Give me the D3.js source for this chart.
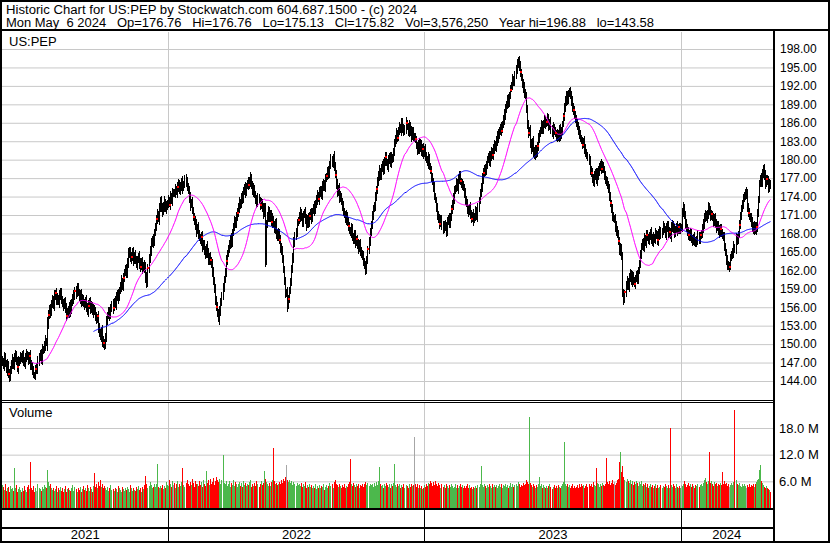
<!DOCTYPE html>
<html><head><meta charset="utf-8">
<script src="https://cdn.jsdelivr.net/npm/d3@7"></script>
<style>
body{margin:0;background:#fff}
svg{display:block}
text{font-family:Arial,"Liberation Sans",sans-serif;fill:#000}
</style>
</head><body><svg id="c" width="830" height="543"></svg>
<script>
// ---- DATA ----
const headerLine1 = "Historic Chart for US:PEP by Stockwatch.com 604.687.1500 - (c) 2024";
const headerLine2 = "Mon May  6 2024   Op=176.76   Hi=176.76   Lo=175.13   Cl=175.82   Vol=3,576,250   Year hi=196.88   lo=143.58";
const symbol = "US:PEP";
const yearLabels = ["2021","2022","2023","2024"];
const yearStarts = [0,162,411,661];           // first trading-day index of each year
const priceTicks = [198,195,192,189,186,183,180,177,174,171,168,165,162,159,156,153,150,147,144];
const volTicks = [6,12,18];                  // millions
const closes = [
147.2,146.5,147.8,146.9,145.8,146.6,145.2,144.6,145.9,146.8,
147.5,146.4,147.9,148.3,147.1,146.2,147.0,147.4,148.1,147.6,
148.2,147.3,146.8,147.7,148.5,147.9,147.4,148.0,146.9,146.3,
145.8,145.1,144.8,146.0,146.0,147.2,147.8,148.4,147.6,148.9,
149.2,149.8,150.6,150.1,153.2,154.8,155.6,155.1,156.6,157.2,
156.4,157.8,158.3,157.1,157.6,156.8,157.9,158.4,157.3,156.6,
156.2,157.0,155.8,154.6,155.4,155.0,156.1,155.5,156.8,157.4,
157.9,158.6,158.2,159.3,158.5,157.4,158.0,156.9,157.5,156.6,
156.3,157.2,156.0,155.4,156.2,156.9,155.7,156.4,155.1,155.8,
155.3,154.6,153.9,154.5,152.8,151.9,151.2,152.0,150.6,150.1,
149.8,151.3,153.6,154.8,155.3,154.6,155.9,156.4,155.8,157.1,
156.5,157.6,158.2,157.4,158.9,159.5,160.2,159.4,160.8,161.6,
162.3,161.5,163.4,164.6,165.3,163.8,164.2,164.9,163.6,164.5,
163.9,162.8,163.7,164.3,163.2,162.6,163.5,162.1,162.9,162.3,
161.0,159.8,162.4,163.9,165.2,166.3,167.1,166.5,168.2,169.0,
170.4,171.2,170.3,172.0,173.4,172.2,171.5,172.6,173.1,171.9,
172.4,172.8,173.5,172.7,174.0,173.3,174.6,174.6,174.5,175.2,
174.7,175.5,176.1,175.0,175.6,176.3,175.4,176.0,176.8,176.5,
175.6,174.9,173.8,172.5,173.2,171.8,170.6,170.1,169.3,168.5,
169.0,167.9,167.4,166.8,167.5,165.9,166.3,165.1,164.6,165.8,
164.9,163.5,164.2,163.7,162.8,161.9,160.3,158.9,157.2,156.1,
155.2,154.1,155.3,156.8,157.9,159.2,160.4,161.9,163.5,164.8,
165.6,166.2,167.1,166.5,168.0,169.2,170.1,169.5,170.8,171.4,
172.2,173.0,172.5,174.1,173.6,174.8,175.4,174.7,175.6,176.3,
175.8,176.6,177.0,175.9,174.8,175.4,174.2,173.5,172.9,174.0,
173.2,172.6,173.1,172.0,171.3,172.2,163.4,169.6,170.8,171.5,
170.6,171.2,169.8,170.4,169.3,168.7,169.5,168.1,167.4,168.2,
166.9,165.8,165.1,164.0,162.2,160.1,158.3,158.3,156.2,157.4,
158.6,160.3,162.1,164.2,166.4,167.5,168.3,169.6,170.2,170.8,
171.4,170.6,169.8,170.9,171.6,170.2,169.4,170.5,169.7,170.8,
171.3,170.4,171.6,172.4,171.8,172.9,173.5,174.2,173.6,174.5,
175.1,174.3,175.6,176.2,175.5,176.8,177.4,178.2,177.6,179.3,
180.1,179.4,180.3,179.2,177.5,176.1,174.6,175.3,173.8,174.2,
173.1,172.4,171.6,171.0,170.3,170.9,169.8,169.2,168.6,168.1,
168.7,167.5,166.9,167.8,166.4,167.1,166.2,165.5,166.3,165.1,
164.7,164.3,163.5,162.6,162.1,163.6,165.4,166.8,168.1,169.5,
170.8,171.9,172.6,173.8,175.2,176.4,177.5,178.1,177.3,178.6,
179.2,178.4,179.7,180.5,179.6,178.8,179.9,180.6,179.5,180.3,
180.1,181.4,182.6,183.5,184.2,183.6,184.8,185.4,184.7,185.9,
185.2,184.6,185.1,186.0,185.3,184.5,185.6,184.4,183.9,184.7,
183.6,183.6,183.4,182.1,181.5,182.6,181.9,182.7,181.2,181.8,
181.0,181.7,180.6,180.1,179.5,180.2,179.0,178.1,177.2,176.4,
175.5,174.2,173.4,172.1,171.0,170.3,169.6,170.4,169.2,168.7,
169.5,169.0,168.4,169.8,170.6,169.5,170.8,171.9,172.8,173.6,
174.9,175.5,176.3,175.4,176.8,177.4,176.5,175.9,176.1,175.3,
174.4,173.5,172.8,172.0,171.4,172.3,171.1,170.4,171.0,170.2,
170.9,171.6,170.8,172.1,173.4,174.5,175.6,177.0,177.8,178.5,
178.1,179.2,179.9,180.6,179.8,180.5,181.3,180.7,181.8,182.4,
181.9,183.1,183.8,184.0,184.6,185.3,184.7,185.8,186.6,187.3,
188.1,189.0,189.8,189.2,190.5,191.4,192.2,193.1,192.6,193.8,
194.7,195.5,196.2,195.1,194.3,193.2,192.5,191.6,191.0,190.4,
188.2,185.6,184.3,184.9,182.5,181.8,182.9,181.4,180.8,181.6,
181.0,182.3,183.4,184.1,184.9,185.6,184.8,185.9,186.4,185.7,
186.2,186.8,185.4,186.1,185.0,184.3,185.2,184.6,184.4,183.5,
184.3,183.6,184.8,184.0,184.6,185.8,187.1,188.4,189.6,190.3,
189.7,190.6,191.2,190.4,189.5,188.6,188.0,187.4,186.6,186.0,
185.4,184.8,184.1,183.6,183.0,182.4,182.9,181.8,181.2,180.6,
180.5,179.6,178.4,177.8,177.0,176.4,177.3,177.9,176.8,177.6,
178.0,178.7,179.3,178.5,179.1,178.2,177.5,176.8,176.3,176.0,
175.2,174.1,173.0,171.8,171.0,170.4,170.4,169.1,168.5,167.9,
166.8,165.1,165.6,164.4,158.2,157.1,158.4,159.6,160.2,159.3,
160.8,161.5,160.2,161.0,160.4,159.7,160.6,161.3,160.5,161.8,
163.2,164.5,165.8,166.6,165.9,167.2,166.5,167.8,167.4,166.8,
167.5,168.1,167.2,166.6,167.4,167.0,168.2,167.6,166.9,167.8,
168.4,167.7,168.5,169.2,168.6,167.9,168.8,169.4,168.0,168.3,
167.6,168.9,169.5,168.7,168.1,168.5,169.2,168.4,169.0,168.6,
169.0,169.0,171.3,172.4,170.8,169.6,168.9,168.2,167.8,167.5,
168.1,167.2,166.6,167.4,166.8,166.4,167.1,167.6,166.9,167.7,
168.0,168.8,169.6,170.4,171.2,170.5,171.0,172.4,171.6,170.8,
171.2,170.5,169.8,170.6,169.5,168.9,169.4,168.5,168.1,168.8,
168.2,167.6,167.5,166.0,164.8,163.6,163.0,162.6,162.6,164.1,
164.6,165.0,165.8,165.4,167.2,166.8,168.0,169.4,170.8,172.1,
172.8,173.6,174.2,174.6,174.6,172.1,171.4,170.8,170.5,169.8,
169.2,168.6,169.3,168.5,169.1,171.2,173.6,176.0,177.1,176.3,
177.6,178.6,177.4,176.2,176.9,176.5,175.4,176.2,175.82];
// extension of each daily bar beyond open/close, in tenths of a dollar (estimated)
const wicks = [
6,4,7,5,3,8,5,6,4,5, 7,3,5,6,4,6,8,4,5,3, 5,6,4,7,5,3,6,5,8,4, 6,5,3,4,7,6,5,4,6,8,
4,5,7,3,9,6,5,7,4,6, 5,8,4,6,5,3,7,5,6,4, 6,4,5,7,3,6,5,8,4,5, 7,5,6,4,5,3,6,7,5,4,
5,3,6,5,7,4,6,5,3,6, 4,6,5,3,7,5,4,6,8,5, 6,4,7,3,5,6,4,5,7,3, 5,7,4,6,3,5,8,4,6,5,
4,6,5,8,4,3,6,5,7,4, 6,3,5,4,7,6,4,5,3,6, 8,5,4,6,5,7,3,6,4,5, 5,6,3,7,4,5,6,4,8,3,
6,4,5,3,7,4,6,5,4,6, 3,7,5,4,6,5,8,4,5,7, 5,4,6,7,3,5,4,6,5,8, 4,6,5,3,6,7,4,5,6,4,
7,5,4,6,3,8,5,4,6,5, 6,3,7,5,4,6,5,3,7,4, 4,6,5,7,5,3,6,4,5,6, 5,7,4,3,6,5,4,7,5,3,
6,4,8,5,4,6,3,5,6,4, 3,6,5,4,7,5,6,4,5,7, 6,5,4,7,3,5,6,8,4,5, 4,7,5,6,4,3,6,5,7,4,
5,3,6,4,8,5,4,6,3,5, 7,4,5,6,3,5,7,4,6,5, 5,6,4,3,7,4,5,6,4,8, 4,5,7,5,4,6,3,5,6,4,
6,4,5,8,3,6,5,4,7,5, 3,5,6,4,5,7,4,6,5,3, 7,6,4,5,6,3,5,7,4,6, 5,4,6,3,7,5,4,5,6,4,
6,5,3,7,4,6,5,8,4,5, 4,7,5,6,5,3,6,4,5,7, 5,3,6,4,7,5,4,6,3,6, 6,5,4,7,3,5,6,4,8,5,
4,6,5,3,6,4,7,5,4,6, 7,4,6,5,4,8,5,3,6,4, 5,6,3,4,6,5,7,4,5,6, 4,5,7,6,3,5,4,6,5,7,
6,3,5,4,7,6,5,4,6,3, 5,7,4,6,5,3,6,5,4,8, 3,6,5,7,4,5,4,6,7,5, 6,4,5,3,6,7,5,4,5,6,
4,5,6,8,5,4,6,3,5,7, 7,4,5,6,4,5,3,6,4,5, 5,6,4,5,7,3,6,5,8,4, 4,5,6,3,5,6,4,7,5,6,
6,4,7,5,3,6,5,4,6,5, 3,6,5,4,6,5,7,4,5,3, 5,4,6,7,5,4,3,6,5,7, 6,5,3,4,6,7,5,6,4,5,
4,6,5,6,3,5,4,7,6,4, 5,3,7,4,6,5,6,4,5,8, 7,5,4,6,5,3,6,5,4,6, 4,6,5,3,7,4,5,6,7,5,
5,4,6,5,4,6,3,5,6,4, 6,5,4,7,6,3,5,4,6,5, 3,6,5,4,5,7,4,6,5,3, 5,4,7,5,6,4,5,3,6,7,
6,5,3,6,4,5,7,4,5,6, 4,7,5,4,6,5,3,6,4,5, 5,4,6,5,3,7,5,4,6,5, 6,5,4,3,6,5,4,7,5,4,
4,6,5,7,4,3,6,5,4,6, 5,3,6,4,5,6,4,5,7,5, 6,4,5,6,3,5,7,4,6,4, 4,5,7,4,6,5,3,6,5,4,
5,6,4,5,7,4,6,5,4,6, 7,5,6,4,5,6,4,5,3,5, 6,4,5,7,5,4,6,5,4];
// daily volume, tenths of a million shares (estimated)
const volumes = [
52,48,41,55,38,44,47,36,50,42, 45,39,90,46,51,37,43,48,40,35, 44,38,49,41,36,47,52,43,104,46,
41,50,37,44,39,55,46,42,38,48, 43,51,47,45,85,58,49,53,44,40, 46,38,42,50,36,44,41,47,39,45,
37,43,49,35,42,46,40,38,44,51, 39,47,42,36,45,40,48,37,43,50, 41,46,38,52,44,39,47,43,36,49,
79,48,53,45,58,50,62,47,55,44, 50,46,41,48,38,45,52,40,43,39, 46,42,37,49,44,41,36,47,43,38,
45,40,48,42,37,51,44,39,46,41, 38,47,43,50,40,45,37,48,42,52, 72,54,46,49,58,51,44,47,55,48,
53,99,48,44,50,46,52,43,49,45, 58,52,49,62,55,48,60,51,57,46, 53,61,48,55,50,58,90,52,47,56,
62,54,49,58,51,65,57,48,60,53, 55,49,61,52,58,47,63,54,50,84, 57,62,51,66,55,59,68,52,61,70,
64,58,66,55,62,120,57,53,60,49, 55,61,48,57,52,63,50,58,54,47, 53,59,50,56,48,61,52,57,49,55,
51,58,62,47,54,50,57,49,60,53, 48,55,61,52,57,84,66,59,54,50, 56,49,58,62,134,60,53,57,51,55,
59,54,62,57,66,61,70,97,64,58, 63,56,60,52,58,54,49,57,51,55, 50,56,47,53,49,58,45,52,48,54,
47,52,44,50,46,55,42,49,45,51, 44,50,47,53,41,48,52,45,50,56, 49,54,46,58,62,55,51,47,53,50,
46,52,48,55,44,50,47,53,58,110, 54,49,56,51,47,53,49,55,46,52, 50,55,48,53,58,52,57,49,54,51,
53,47,56,50,58,52,61,92,55,49, 52,46,54,49,57,51,48,55,46,53, 50,56,100,52,47,55,49,53,45,51,
48,54,46,52,50,45,53,47,55,49, 52,159,55,48,53,46,51,44,49,42, 46,52,48,55,50,57,53,61,56,49,
58,52,60,55,49,57,51,46,53,48, 51,46,54,49,45,52,47,55,50,44, 48,53,46,51,44,49,55,47,52,45,
50,44,49,53,46,51,45,48,42,47, 44,50,46,52,48,55,95,51,47,53, 49,45,52,47,54,50,46,53,48,51,
47,52,45,50,55,48,53,46,51,49, 54,47,52,45,50,56,48,53,47,51, 55,50,58,53,47,52,49,56,51,54,
62,58,54,205,56,51,48,54,50,46, 52,47,55,70,49,53,46,51,48,44, 50,45,49,53,47,42,48,51,45,49,
46,52,48,44,50,53,58,148,55,49, 53,47,51,45,49,54,46,50,44,48, 51,46,53,48,55,49,52,46,50,54,
48,55,50,53,47,58,52,49,90,56, 53,48,55,50,57,52,49,54,113,58, 55,60,52,57,63,54,59,51,56,62,
66,104,125,82,95,70,64,58,66,61, 57,63,55,60,52,58,54,61,56,50, 58,53,60,49,55,51,57,48,53,46,
50,55,47,52,44,49,53,46,51,45, 48,52,45,50,47,54,49,44,51,46, 180,52,47,55,50,45,53,48,44,50,
46,52,49,55,60,53,47,51,56,49, 53,48,55,50,46,52,49,54,47,51, 55,50,57,62,68,58,53,60,125,56,
61,55,50,58,53,57,49,54,51,56, 52,80,55,60,53,57,50,54,48,52, 56,51,58,220,64,55,52,57,50,48,
53,49,55,50,46,52,48,54,47,51, 49,53,47,55,58,62,66,85,97,60, 57,52,48,46,50,44,42,40,36];
// days carrying a small red marker on the price bar
const markDays = [6,15,27,33,45,52,63,71,84,93,99,108,118,126,135,142,150,163,171,186,194,203,209,218,229,240,251,262,270,279,288,299,308,316,324,337,345,356,364,373,385,393,402,409,417,426,437,446,457,468,477,486,495,504,512,521,530,538,546,556,565,573,583,592,600,606,615,627,638,649,658,668,679,690,699,708,717,726,734,744];
const maShort = 30, maLong = 90;

// ---- DRAWING ----
const svg = d3.select("#c");
const N = closes.length;
const L = 2, R = 772;
const x = d3.scaleLinear().domain([0, N]).range([L, R]);
const y = d3.scaleLinear().domain([144, 198]).range([381, 49]);
const yv = d3.scaleLinear().domain([0, 18]).range([508, 428]);
const bx = i => Math.floor(x(i));

svg.append("rect").attr("width", 830).attr("height", 543).attr("fill", "#fff");

// header
svg.append("text").attr("x", 6).attr("y", 13.5).style("font-size", "12px").style("white-space", "pre")
  .attr("textLength", 411).attr("lengthAdjust", "spacingAndGlyphs").text(headerLine1);
svg.append("text").attr("x", 6).attr("y", 27.2).style("font-size", "12px").style("white-space", "pre")
  .attr("textLength", 648).attr("lengthAdjust", "spacingAndGlyphs").text(headerLine2);

// price gridlines
const gp = svg.append("g").attr("transform", `translate(${L},0)`)
  .call(d3.axisRight(y).tickValues(priceTicks).tickSize(R + 1 - L).tickFormat(""));
gp.select(".domain").remove();
gp.selectAll("line").attr("stroke", "#c8c8c8");
// volume gridlines
const gv = svg.append("g").attr("transform", `translate(${L},0)`)
  .call(d3.axisRight(yv).tickValues(volTicks).tickSize(R + 1 - L).tickFormat(""));
gv.select(".domain").remove();
gv.selectAll("line").attr("stroke", "#c8c8c8");
// vertical year gridlines
yearStarts.slice(1).forEach(s => {
  const xx = bx(s) + 0.5;
  svg.append("line").attr("x1", xx).attr("x2", xx).attr("y1", 32).attr("y2", 400).attr("stroke", "#c8c8c8");
  svg.append("line").attr("x1", xx).attr("x2", xx).attr("y1", 403).attr("y2", 509).attr("stroke", "#c8c8c8");
  svg.append("line").attr("x1", xx).attr("x2", xx).attr("y1", 510).attr("y2", 543).attr("stroke", "#000");
});

// price bars
const bars = closes.map((c, i) => {
  const o = i ? closes[i - 1] : c;
  const w = (wicks[i] || 0) * 0.12;
  return { i, c, hi: Math.max(o, c) + w, lo: Math.min(o, c) - w };
});
svg.append("g").selectAll("rect").data(bars).join("rect")
  .attr("x", d => bx(d.i)).attr("width", 1)
  .attr("y", d => Math.floor(y(d.hi))).attr("height", d => Math.max(1, Math.ceil(y(d.lo)) - Math.floor(y(d.hi))))
  .attr("fill", "#000").attr("shape-rendering", "crispEdges");

// moving averages
function sma(p) { return closes.map((c, i) => i < p - 1 ? null : d3.mean(closes.slice(i - p + 1, i + 1))); }
const line = d3.line().defined(d => d != null).x((d, i) => bx(i) + 0.5).y(d => y(d));
svg.append("path").datum(sma(maLong)).attr("d", line).attr("fill", "none").attr("stroke", "#0000ff").attr("stroke-width", 1);
svg.append("path").datum(sma(maShort)).attr("d", line).attr("fill", "none").attr("stroke", "#ff00ff").attr("stroke-width", 1);

// markers
svg.append("g").selectAll("rect").data(markDays.filter(i => i < N)).join("rect")
  .attr("x", i => bx(i)).attr("y", i => Math.round(y(closes[i])) - 1).attr("width", 2).attr("height", 2)
  .attr("fill", "#ff0000").attr("shape-rendering", "crispEdges");

// volume bars
svg.append("g").selectAll("rect").data(volumes.slice(0, N)).join("rect")
  .attr("x", (v, i) => bx(i)).attr("width", 1)
  .attr("y", v => Math.round(yv(v / 10))).attr("height", v => 509 - Math.round(yv(v / 10)))
  .attr("fill", (v, i) => {
    if (i === 0) return "#4cb84c";
    const d = closes[i] - closes[i - 1];
    return d > 0 ? "#4cb84c" : d < 0 ? "#ff0000" : "#a6a6a6";
  }).attr("shape-rendering", "crispEdges");

// frame lines
const blk = (x1, y1, w, h) => svg.append("rect").attr("x", x1).attr("y", y1).attr("width", w).attr("height", h).attr("fill", "#000").attr("shape-rendering", "crispEdges");
blk(0, 29, 830, 2);         // header separator
blk(0, 400, 773, 1);        // price/volume double line
blk(0, 402, 773, 1);
blk(0, 508, 773, 2);        // volume bottom
blk(0, 527, 773, 2);        // year band line
blk(773, 29, 2, 514);       // plot/axis separator
svg.append("rect").attr("x", 1).attr("y", 1).attr("width", 828).attr("height", 541)
  .attr("fill", "none").attr("stroke", "#000").attr("stroke-width", 2);

// labels
svg.append("text").attr("x", 9).attr("y", 46).style("font-size", "13px").text(symbol);
svg.append("text").attr("x", 9).attr("y", 417).style("font-size", "13px").text("Volume");

// price axis labels
const ax = svg.append("g").attr("transform", "translate(775,0)")
  .call(d3.axisRight(y).tickValues(priceTicks).tickSize(0).tickPadding(5).tickFormat(d3.format(".2f")));
ax.select(".domain").remove();
ax.selectAll("text").style("font-size", "12px").style("font-family", "Arial, 'Liberation Sans', sans-serif").attr("fill", "#000");
// volume axis labels
const av = svg.append("g").attr("transform", "translate(775,0)")
  .call(d3.axisRight(yv).tickValues(volTicks).tickSize(0).tickPadding(4).tickFormat(d => d3.format(".1f")(d) + " M"));
av.select(".domain").remove();
av.selectAll("text").style("font-size", "13px").style("font-family", "Arial, 'Liberation Sans', sans-serif").attr("fill", "#000");

// year labels
const ends = yearStarts.slice(1).concat([N]);
svg.append("g").selectAll("text").data(yearLabels).join("text")
  .attr("x", (d, k) => (x(yearStarts[k]) + Math.min(x(ends[k]), 773)) / 2)
  .attr("y", 539).attr("text-anchor", "middle").style("font-size", "13px").text(d => d);
</script>
</body></html>
